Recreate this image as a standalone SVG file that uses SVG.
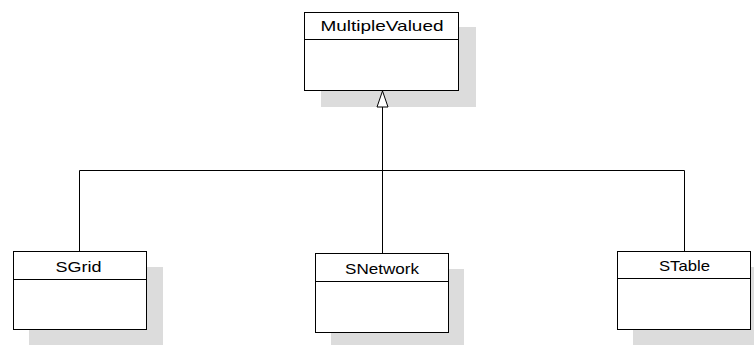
<svg xmlns="http://www.w3.org/2000/svg" width="754" height="345" viewBox="0 0 754 345">
<style>
.shadow{fill:#dcdcdc;stroke:none}
.box{fill:#ffffff;stroke:#000000;stroke-width:1}
.sep{stroke:#000000;stroke-width:1}
.lbl{font-family:"Liberation Sans",Arial,sans-serif;font-size:15px;fill:#000000;text-anchor:middle}
.conn{stroke:#000000;stroke-width:1;fill:none}
</style>
<rect x="0" y="0" width="754" height="345" fill="#ffffff"/>
<g id="MultipleValued">
<rect class="shadow" x="321" y="27" width="155" height="80"/>
<rect class="box" x="304.5" y="12.5" width="154" height="78"/>
<line class="sep" x1="304.5" y1="39.5" x2="458.5" y2="39.5"/>
<text class="lbl" x="382" y="31" textLength="123" lengthAdjust="spacingAndGlyphs">MultipleValued</text>
</g>
<g id="SGrid">
<rect class="shadow" x="29" y="267" width="134" height="78"/>
<rect class="box" x="13.5" y="251.5" width="133" height="78"/>
<line class="sep" x1="13.5" y1="279.5" x2="146.5" y2="279.5"/>
<text class="lbl" x="78.5" y="271.5" textLength="46" lengthAdjust="spacingAndGlyphs">SGrid</text>
</g>
<g id="SNetwork">
<rect class="shadow" x="331" y="269" width="133" height="76"/>
<rect class="box" x="315.5" y="253.5" width="133" height="79"/>
<line class="sep" x1="315.5" y1="281.5" x2="448.5" y2="281.5"/>
<text class="lbl" x="382" y="273.5" textLength="74" lengthAdjust="spacingAndGlyphs">SNetwork</text>
</g>
<g id="STable">
<rect class="shadow" x="633" y="267" width="121" height="78"/>
<rect class="box" x="617.5" y="251.5" width="133" height="78"/>
<line class="sep" x1="617.5" y1="278.5" x2="750.5" y2="278.5"/>
<text class="lbl" x="684.5" y="271" textLength="51" lengthAdjust="spacingAndGlyphs">STable</text>
</g>
<g id="connectors">
<polyline class="conn" points="79.5,251.5 79.5,170.5 684.5,170.5 684.5,251.5"/>
<line class="conn" x1="382.5" y1="253.5" x2="382.5" y2="107"/>
<polygon points="382.5,91 377,107 388,107" fill="#ffffff" stroke="#000000" stroke-width="1"/>
</g>
</svg>
